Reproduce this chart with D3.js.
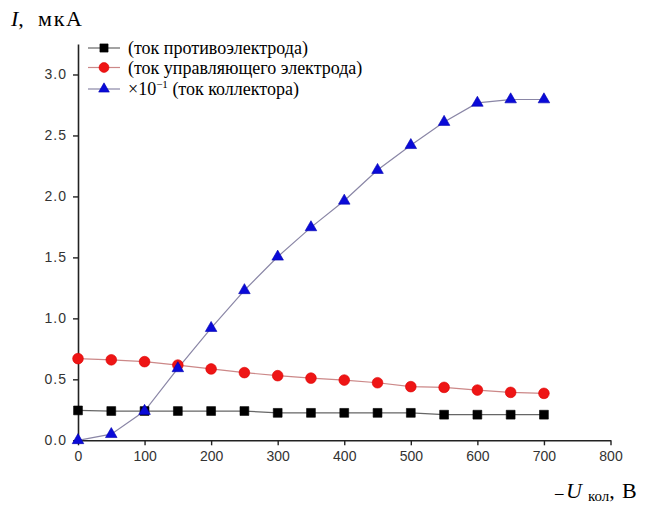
<!DOCTYPE html>
<html>
<head>
<meta charset="utf-8">
<script src="https://cdn.jsdelivr.net/npm/d3@7"></script>
<style>
  body { margin: 0; background: #fff; }
  svg { display: block; }
</style>
</head>
<body>
<svg width="650" height="506"></svg>
<script>
// voltage on the collector, V
var voltage = [0, 50, 100, 150, 200, 250, 300, 350, 400, 450, 500, 550, 600, 650, 700];
// counter electrode current, uA
var counterCurrent = [0.245, 0.24, 0.24, 0.24, 0.24, 0.24, 0.225, 0.225, 0.225, 0.225, 0.225, 0.21, 0.21, 0.21, 0.21];
// control electrode current, uA
var controlCurrent = [0.67, 0.66, 0.645, 0.617, 0.585, 0.555, 0.53, 0.51, 0.494, 0.472, 0.44, 0.434, 0.412, 0.393, 0.385];
// collector current x 0.1, uA
var collectorCurrent = [0.0, 0.05, 0.24, 0.59, 0.92, 1.23, 1.505, 1.746, 1.964, 2.216, 2.42, 2.61, 2.767, 2.795, 2.795];

var xMajor = [0, 100, 200, 300, 400, 500, 600, 700, 800];
var xMinor = [50, 150, 250, 350, 450, 550, 650, 750];
var yMajor = [0, 0.5, 1.0, 1.5, 2.0, 2.5, 3.0];
var yMinor = [0.25, 0.75, 1.25, 1.75, 2.25, 2.75, 3.25];

var legendLabels = ['(ток противоэлектрода)', '(ток управляющего электрода)', '(ток коллектора)'];

var SERIF = '"Liberation Serif", "DejaVu Serif", serif';
var SANS = '"Liberation Sans", Arial, sans-serif';

document.addEventListener('DOMContentLoaded', function () {
    const svg = d3.select('svg');
    const margin = { top: 44, left: 78 };

    const xScale = d3.scaleLinear().domain([0, 800]).range([margin.left, 610.5]);
    const yScale = d3.scaleLinear().domain([0, 3.25]).range([440.3, margin.top]);

    // axes
    const xAxis = d3.axisBottom(xScale).tickValues(xMajor).tickFormat(d3.format('d'))
        .tickSizeInner(5).tickSizeOuter(0).tickPadding(6);
    const xAxisMinor = d3.axisBottom(xScale).tickValues(xMinor).tickFormat('')
        .tickSizeInner(3).tickSizeOuter(0);
    const yAxis = d3.axisLeft(yScale).tickValues(yMajor).tickFormat(d3.format('.1f'))
        .tickSizeInner(5).tickSizeOuter(0).tickPadding(6);
    const yAxisMinor = d3.axisLeft(yScale).tickValues(yMinor).tickFormat('')
        .tickSizeInner(4).tickSizeOuter(0);

    const gx = svg.append('g').attr('transform', 'translate(0,' + yScale(0) + ')');
    gx.call(xAxisMinor);
    gx.call(xAxis);
    const gy = svg.append('g').attr('transform', 'translate(' + xScale(0) + ',0)');
    gy.call(yAxisMinor);
    gy.call(yAxis);
    svg.selectAll('.tick text')
        .style('font-family', SANS).style('font-size', '14px').attr('fill', '#333');
    gy.selectAll('.tick text').attr('letter-spacing', '1px');
    svg.selectAll('.domain').attr('stroke', '#222').attr('stroke-width', 1.6);
    svg.selectAll('.tick line').attr('stroke', '#222').attr('stroke-width', 1.4);

    // series
    const series = [
        { values: counterCurrent, line: '#666', fill: '#000', stroke: '#000', symbol: d3.symbolSquare, size: 78 },
        { values: controlCurrent, line: '#c88', fill: '#ee1515', stroke: '#d00', symbol: d3.symbolCircle, size: 90 },
        { values: collectorCurrent, line: '#8a86a6', fill: '#0a0ad8', stroke: '#0000b0', symbol: d3.symbolTriangle, size: 58 }
    ];

    const line = d3.line()
        .x(function (d, i) { return xScale(voltage[i]); })
        .y(function (d) { return yScale(d); });

    series.forEach(function (s) {
        svg.append('path')
            .datum(s.values)
            .attr('fill', 'none')
            .attr('stroke', s.line)
            .attr('stroke-width', 1.2)
            .attr('d', line);
    });

    series.forEach(function (s) {
        svg.append('g').selectAll('path')
            .data(s.values)
            .join('path')
            .attr('transform', function (d, i) { return 'translate(' + xScale(voltage[i]) + ',' + yScale(d) + ')'; })
            .attr('d', d3.symbol().type(s.symbol).size(s.size))
            .attr('fill', s.fill)
            .attr('stroke', s.stroke)
            .attr('stroke-width', 0.6);
    });

    // legend
    const legendY = [48, 67.5, 89];
    const legend = svg.append('g');
    series.forEach(function (s, i) {
        const row = legend.append('g').attr('transform', 'translate(0,' + legendY[i] + ')');
        row.append('line').attr('x1', 88).attr('x2', 120).attr('y1', 0).attr('y2', 0)
            .attr('stroke', s.line).attr('stroke-width', 1.2);
        row.append('path').attr('transform', 'translate(104,0)')
            .attr('d', d3.symbol().type(s.symbol).size(s.size * 0.85))
            .attr('fill', s.fill).attr('stroke', s.stroke).attr('stroke-width', 0.6);
        const t = row.append('text').attr('x', 128).attr('y', 6)
            .style('font-family', SERIF).style('font-size', '18px').attr('fill', '#000');
        if (i === 2) {
            t.append('tspan').text('×10');
            t.append('tspan').attr('dy', -7).style('font-size', '11px').text('−1');
            t.append('tspan').attr('dy', 7).text(' ' + legendLabels[i]);
        } else {
            t.text(legendLabels[i]);
        }
    });

    // axis titles
    const yt = svg.append('text').attr('y', 26)
        .style('font-family', SERIF).style('font-size', '22px').attr('fill', '#000');
    yt.append('tspan').attr('x', 11).style('font-style', 'italic').text('I');
    yt.append('tspan').text(',');
    yt.append('tspan').attr('x', 38).attr('textLength', 44).text('мкА');

    const xt = svg.append('text').attr('y', 498)
        .style('font-family', SERIF).style('font-size', '22px').attr('fill', '#000');
    xt.append('tspan').attr('x', 555).style('font-size', '17px').text('–');
    xt.append('tspan').attr('x', 566).style('font-style', 'italic').text('U');
    xt.append('tspan').attr('x', 588).attr('dy', 3).style('font-size', '15px').text('кол');
    xt.append('tspan').attr('dy', -3).text(',');
    xt.append('tspan').attr('x', 622).text('В');
});
</script>
</body>
</html>
